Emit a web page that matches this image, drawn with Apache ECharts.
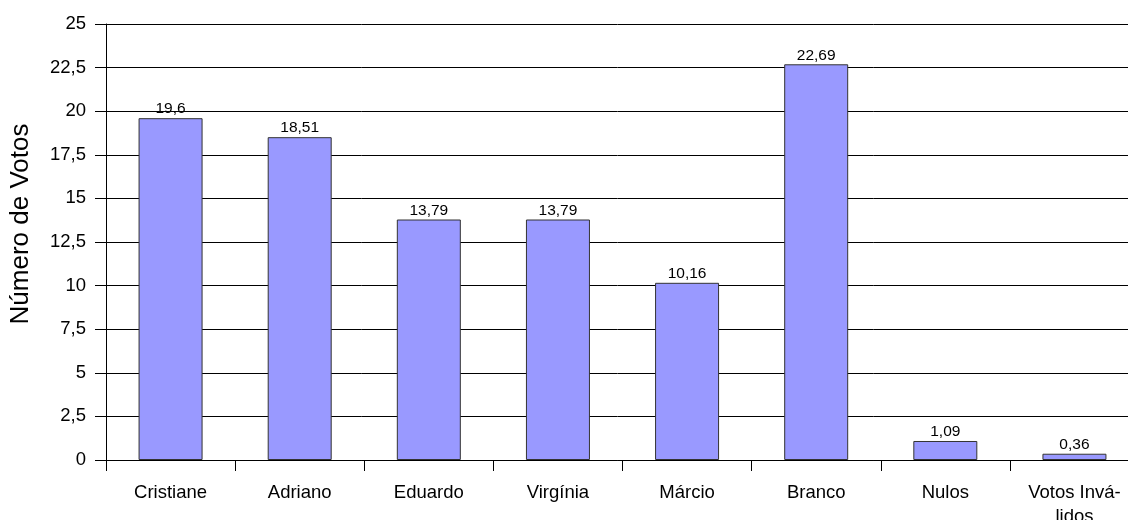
<!DOCTYPE html>
<html>
<head>
<meta charset="utf-8">
<script src="https://cdn.jsdelivr.net/npm/echarts@6/dist/echarts.min.js"></script>
<style>html,body{margin:0;padding:0;background:#fff;overflow:hidden;}#c{width:1128px;height:520px;}</style>
</head>
<body>
<div id="c"></div>
<script>
const categories = ['Cristiane', 'Adriano', 'Eduardo', 'Virgínia', 'Márcio', 'Branco', 'Nulos', 'Votos Inválidos'];
const votes = [19.6, 18.51, 13.79, 13.79, 10.16, 22.69, 1.09, 0.36];
const yAxisName = 'Número de Votos';

const fmt = v => String(v).replace('.', ',');
const chart = echarts.init(document.getElementById('c'), null, {renderer: 'canvas'});
chart.setOption({
  animation: false,
  backgroundColor: '#fff',
  textStyle: {fontFamily: 'Liberation Sans, Arial, sans-serif'},
  grid: {left: 106, top: 24, width: 1033, height: 436, containLabel: false, outerBoundsMode: 'none'},
  xAxis: {
    type: 'category',
    data: categories,
    axisLine: {lineStyle: {color: '#000', width: 1}},
    axisTick: {show: true, length: 11, lineStyle: {color: '#000'}},
    axisLabel: {
      color: '#000', fontSize: 18.5, margin: 21, lineHeight: 24,
      formatter: v => v === 'Votos Inválidos' ? 'Votos Invá-\nlidos' : v
    }
  },
  yAxis: {
    type: 'value',
    min: 0, max: 25, interval: 2.5,
    name: yAxisName,
    nameLocation: 'middle',
    nameGap: 72,
    nameTextStyle: {color: '#000', fontSize: 26, padding: [0, 0, 0, 36]},
    axisLine: {show: true, lineStyle: {color: '#000', width: 1}},
    axisTick: {show: true, length: 11, lineStyle: {color: '#000'}},
    axisLabel: {color: '#000', fontSize: 18.5, margin: 20, formatter: v => fmt(v)},
    splitLine: {show: true, lineStyle: {color: '#000', width: 1}}
  },
  series: [{
    type: 'bar',
    data: votes,
    barWidth: 64,
    itemStyle: {color: '#9999ff', borderColor: '#333', borderWidth: 1},
    label: {show: true, position: 'top', distance: 1, color: '#000', fontSize: 15.5, formatter: p => fmt(p.value)}
  }]
});
</script>
</body>
</html>
